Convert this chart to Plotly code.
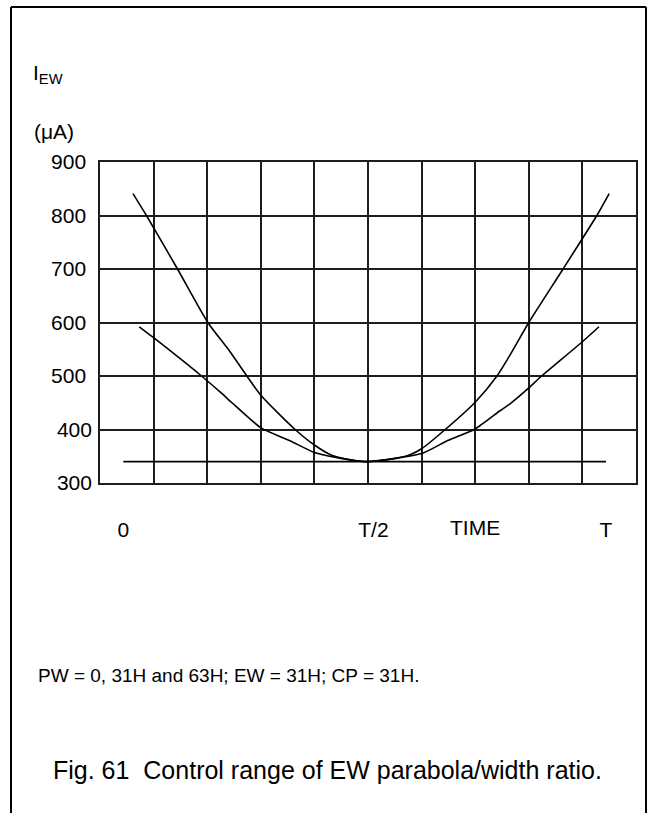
import plotly.graph_objects as go

# Time axis in units of the line period T; current I_EW in microamps.
t_pw63 = [0.0201, 0.0479, 0.1123, 0.1751, 0.2215, 0.2561, 0.2849, 0.3559, 0.3959,
          0.4315, 0.4628, 0.5049, 0.5625, 0.5940, 0.6180, 0.6669, 0.7290, 0.7742,
          0.8011, 0.8401, 0.9111, 0.9811, 1.0066]
i_pw63 = [841, 800, 700, 600, 545, 500, 464, 400, 371,
          352, 345, 340, 346, 353, 364, 400, 451, 500,
          539, 600, 700, 800, 841]

t_pw31 = [0.0331, 0.0621, 0.1620, 0.2045, 0.2252, 0.2853, 0.3453, 0.3959, 0.4510,
          0.5049, 0.6180, 0.6735, 0.7290, 0.7804, 0.8011, 0.8378, 0.8668, 0.9511, 0.9855]
i_pw31 = [592, 572, 500, 467, 450, 403, 379, 357, 346,
          340, 355, 380, 401, 435, 448, 476, 500, 564, 592]

t_pw0 = [0.0, 1.0]
i_pw0 = [340, 340]

y_ticks = [300, 400, 500, 600, 700, 800, 900]
y_tick_text = ["300", "400", "500\u00a0", "600\u00a0", "700\u00a0", "800\u00a0", "900\u00a0"]
x_ticks = [0.0, 0.5, 1.0]
x_tick_text = ["0", "\u00a0\u00a0\u00a0T/2", "T"]

FONT = "Liberation Sans, Arial, sans-serif"
INK = "#000000"
GRID = "#1e1e1e"

fig = go.Figure()
for name, tx, iy in [("PW = 63H", t_pw63, i_pw63),
                     ("PW = 31H", t_pw31, i_pw31),
                     ("PW = 0", t_pw0, i_pw0)]:
    fig.add_trace(go.Scatter(
        x=tx, y=iy, mode="lines", name=name, showlegend=False,
        line=dict(color=INK, width=1.6, shape="spline", smoothing=0.6),
        hoverinfo="skip",
    ))

x_range = [-0.0483, 1.0622]
fig.update_layout(
    width=653, height=813, autosize=False,
    margin=dict(l=100, r=17, t=162, b=330, pad=0),
    paper_bgcolor="white", plot_bgcolor="white",
    font=dict(family=FONT, size=21, color=INK),
    xaxis=dict(
        range=x_range, fixedrange=True,
        tickmode="array", tickvals=x_ticks, ticktext=x_tick_text,
        showgrid=False, zeroline=False, ticks="",
        ticklabelstandoff=27,
        showline=True, mirror=True, linecolor=GRID, linewidth=1.7,
        minor=dict(tick0=x_range[0], dtick=0.11104, showgrid=True,
                   gridcolor=GRID, gridwidth=1.7, ticks=""),
    ),
    yaxis=dict(
        range=[300, 900], fixedrange=True,
        tickmode="array", tickvals=y_ticks, ticktext=y_tick_text,
        showgrid=True, gridcolor=GRID, gridwidth=1.7, zeroline=False, ticks="",
        ticklabelstandoff=2,
        showline=True, mirror=True, linecolor=GRID, linewidth=1.7,
    ),
)

# Page frame: left, top and right rules
def px_x(px):
    return (px - 100) / 536

def px_y(py):
    return (483 - py) / 321

frame = dict(color=INK, width=2)
fig.add_shape(type="line", xref="paper", yref="paper",
              x0=px_x(11), x1=px_x(11), y0=px_y(7), y1=px_y(820), line=frame)
fig.add_shape(type="line", xref="paper", yref="paper",
              x0=px_x(646), x1=px_x(646), y0=px_y(7), y1=px_y(820), line=frame)
fig.add_shape(type="line", xref="paper", yref="paper",
              x0=px_x(11), x1=px_x(646), y0=px_y(7), y1=px_y(7), line=frame)

def note(text, x, y, size, xanchor="left"):
    fig.add_annotation(text=text, xref="paper", yref="paper",
                       x=px_x(x), y=px_y(y), xanchor=xanchor, yanchor="middle",
                       showarrow=False, font=dict(family=FONT, size=size, color=INK))

note("I<sub>EW</sub>", 31, 74, 21)
note("(\u03bcA)", 32, 131, 21)
note("TIME", 475, 527, 21, xanchor="center")
note("PW = 0, 31H and 63H; EW = 31H; CP = 31H.", 36, 675, 19)
note("Fig. 61  Control range of EW parabola/width ratio.", 51, 770, 25)

fig.write_html("out.html")
